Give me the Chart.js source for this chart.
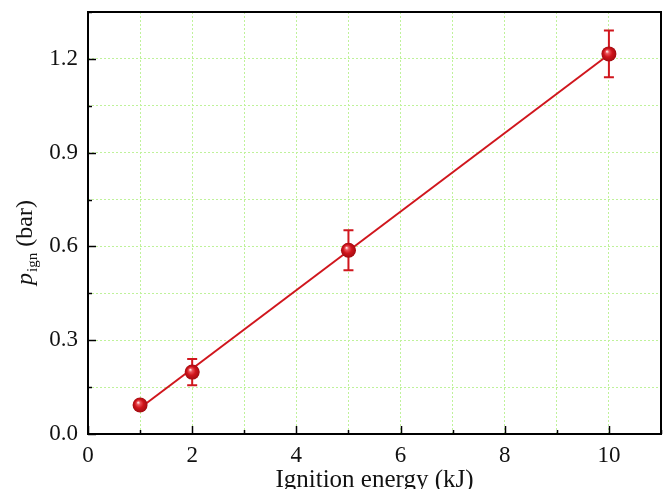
<!DOCTYPE html>
<html><head><meta charset="utf-8">
<script src="https://cdn.jsdelivr.net/npm/chart.js@4/dist/chart.umd.min.js"></script>
<style>html,body{margin:0;padding:0;background:#fff}#wrap{width:663px;height:489px}</style>
</head><body><div id="wrap"><canvas id="c" width="663" height="489"></canvas></div>
<script>
const energy = [1, 2, 5, 10];
const pIgn = [0.093, 0.198, 0.588, 1.216];
const pErr = [0.012, 0.042, 0.064, 0.075];
const fitX = [1, 10];
const fitY = [0.083, 1.214];
const xTickLabels = ['0', '2', '4', '6', '8', '10'];
const yTickLabels = ['0.0', '0.3', '0.6', '0.9', '1.2'];
const xTitle = 'Ignition energy (kJ)';
const yTitleMain = 'p', yTitleSub = 'ign', yTitleUnit = ' (bar)';

const RED = '#d0161d';
const FONT = 'Liberation Serif';

const decor = {
  id: 'decor',
  afterDatasetsDraw(chart) {
    const ctx = chart.ctx;
    const ys = chart.scales.y;
    const meta = chart.getDatasetMeta(1);
    ctx.save();
    ctx.strokeStyle = RED; ctx.lineWidth = 2;
    meta.data.forEach((el, i) => {
      const x = el.x;
      const yt = ys.getPixelForValue(pIgn[i] + pErr[i]);
      const yb = ys.getPixelForValue(pIgn[i] - pErr[i]);
      ctx.beginPath();
      ctx.moveTo(x, yt); ctx.lineTo(x, yb);
      ctx.moveTo(x - 5, yt); ctx.lineTo(x + 5, yt);
      ctx.moveTo(x - 5, yb); ctx.lineTo(x + 5, yb);
      ctx.stroke();
    });
    meta.data.forEach((el) => {
      const x = el.x, y = el.y, r = 7.5;
      const g = ctx.createRadialGradient(x - 2, y - 2.5, 0.3, x, y, r);
      g.addColorStop(0, '#ffe6e6');
      g.addColorStop(0.22, '#ea5258');
      g.addColorStop(0.55, '#d0141b');
      g.addColorStop(1, '#a20c11');
      ctx.fillStyle = g;
      ctx.beginPath(); ctx.arc(x, y, r, 0, Math.PI * 2); ctx.fill();
    });
    ctx.restore();
  },
  afterDraw(chart) {
    const ctx = chart.ctx;
    const a = chart.chartArea;
    const xs = chart.scales.x, ys = chart.scales.y;
    ctx.save();
    ctx.strokeStyle = '#000'; ctx.lineWidth = 1.5;
    xs.ticks.forEach(t => {
      const v = t.value;
      const px = Math.round(xs.getPixelForValue(v)) + 0.5;
      const len = xTickLabels.includes(String(v)) ? 8 : 4;
      ctx.beginPath(); ctx.moveTo(px, a.bottom); ctx.lineTo(px, a.bottom - len); ctx.stroke();
    });
    ys.ticks.forEach(t => {
      const idx = Math.round(t.value / 0.15);
      const py = Math.round(ys.getPixelForValue(t.value)) + 0.5;
      const len = idx % 2 === 0 ? 8 : 4;
      ctx.beginPath(); ctx.moveTo(a.left, py); ctx.lineTo(a.left + len, py); ctx.stroke();
    });
    ctx.lineWidth = 2;
    ctx.strokeRect(a.left, a.top, a.right - a.left, a.bottom - a.top);
    ctx.fillStyle = '#111';
    ctx.font = '25px "' + FONT + '"';
    ctx.textAlign = 'center'; ctx.textBaseline = 'alphabetic';
    ctx.fillText(xTitle, (a.left + a.right) / 2, 487);
    ctx.translate(32, 243);
    ctx.rotate(-Math.PI / 2);
    const fMain = 'italic 24px "' + FONT + '"';
    const fSub = '15px "' + FONT + '"';
    const fUnit = '24px "' + FONT + '"';
    ctx.font = fMain; const w1 = ctx.measureText(yTitleMain).width;
    ctx.font = fSub; const w2 = ctx.measureText(yTitleSub).width;
    ctx.font = fUnit; const w3 = ctx.measureText(yTitleUnit).width;
    let x0 = -(w1 + w2 + w3) / 2;
    ctx.textAlign = 'left';
    ctx.font = fMain; ctx.fillText(yTitleMain, x0, 0); x0 += w1 + 1;
    ctx.font = fSub; ctx.fillText(yTitleSub, x0, 5); x0 += w2;
    ctx.font = fUnit; ctx.fillText(yTitleUnit, x0, 0);
    ctx.restore();
  }
};

new Chart(document.getElementById('c'), {
  type: 'scatter',
  data: {
    datasets: [
      {
        type: 'line',
        data: fitX.map((x, i) => ({ x, y: fitY[i] })),
        borderColor: RED, borderWidth: 2, pointRadius: 0, fill: false, tension: 0
      },
      {
        data: energy.map((x, i) => ({ x, y: pIgn[i] })),
        backgroundColor: RED, borderWidth: 0, pointRadius: 7
      }
    ]
  },
  options: {
    responsive: false,
    animation: false,
    devicePixelRatio: 1,
    layout: { autoPadding: false, padding: { top: 12, right: 2, left: 0, bottom: 0 } },
    plugins: { legend: { display: false }, tooltip: { enabled: false } },
    scales: {
      x: {
        type: 'linear', min: 0, max: 11,
        afterFit(s) { s.height = 55; s.paddingLeft = 0; s.paddingRight = 0; },
        grid: { color: '#bff29a', lineWidth: 1, drawTicks: false },
        border: { display: false, dash: [2, 2] },
        ticks: {
          stepSize: 1, padding: 8, maxRotation: 0, autoSkip: false,
          color: '#111', font: { family: FONT, size: 23 },
          callback: v => xTickLabels.includes(String(v)) ? String(v) : ''
        }
      },
      y: {
        type: 'linear', min: 0, max: 1.35,
        afterFit(s) { s.width = 88; s.paddingTop = 0; s.paddingBottom = 0; },
        grid: { color: '#bff29a', lineWidth: 1, drawTicks: false },
        border: { display: false, dash: [2, 2] },
        ticks: {
          stepSize: 0.15, padding: 10, autoSkip: false,
          color: '#111', font: { family: FONT, size: 23 },
          callback: v => { const i = Math.round(v / 0.15); return i % 2 === 0 && yTickLabels[i / 2] !== undefined ? yTickLabels[i / 2] : ''; }
        }
      }
    }
  },
  plugins: [decor]
});
</script></body></html>
